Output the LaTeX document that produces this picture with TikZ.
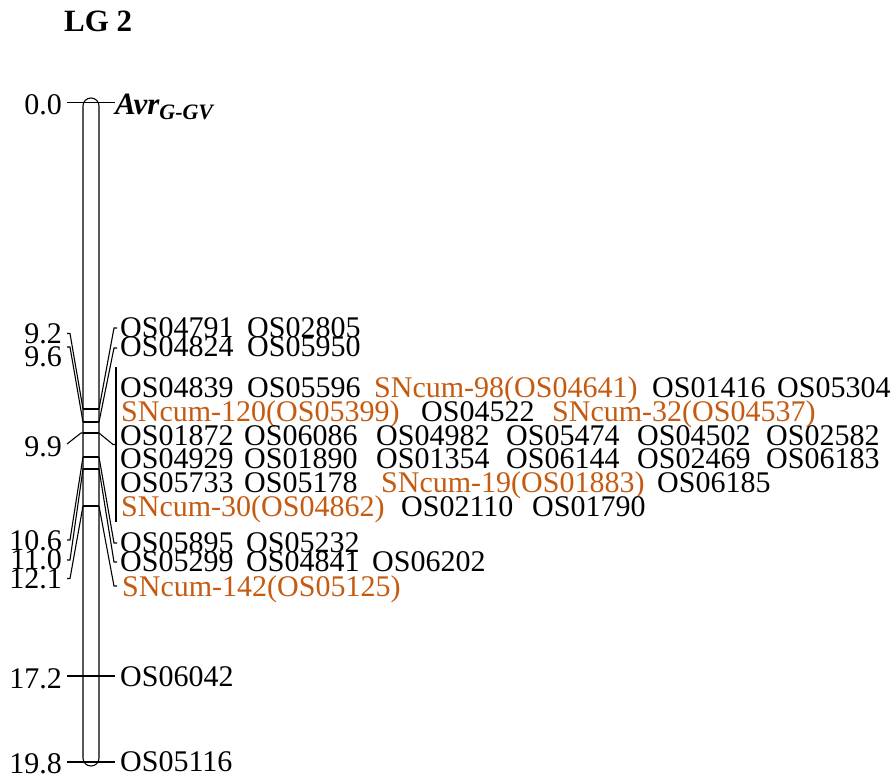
\documentclass[tikz,border=0pt]{standalone}
\usepackage{fontspec}
\setmainfont{Liberation Serif}
\definecolor{snorange}{RGB}{197,90,17}
\tikzset{
  lbl/.style={anchor=base west,inner sep=0pt,font=\fontsize{30}{30}\selectfont},
  num/.style={anchor=base east,inner sep=0pt,font=\fontsize{30}{30}\selectfont},
  sn/.style={lbl,text=snorange},
  conn/.style={line width=1.1pt,black},
  chrom/.style={line width=1.1pt,black}
}
\begin{document}
\begin{tikzpicture}[x=1pt,y=-1pt]
\useasboundingbox (0,0) rectangle (896,776);
% title
\node[anchor=base west,inner sep=0pt,font=\fontsize{31}{31}\selectfont\bfseries] (title) at (64,32) {LG 2};
% chromosome
\draw[chrom,rounded corners=7.9pt] (83,98) rectangle (99,766);
% ticks inside chromosome
\foreach \yy/\nm in {409/a,422/b,433/c,457/d,469/e,506/f}{
  \coordinate (L\nm) at (83,\yy);
  \coordinate (R\nm) at (99,\yy);
  \draw[conn] (L\nm) -- (R\nm);
}
% top and bottom ticks
\coordinate (t0l) at (67,102.7); \coordinate (t0r) at (115,102.7);
\draw[conn] (t0l) -- (t0r);
\coordinate (t17l) at (67,676); \coordinate (t17r) at (115,676);
\draw[conn] (t17l) -- (t17r);
\coordinate (t19l) at (67,762); \coordinate (t19r) at (115,762);
\draw[conn] (t19l) -- (t19r);
% left numbers
\node[num] (n00) at (62,114) {0.0};
\node[num] (n92) at (62,343) {9.2};
\node[num] (n96) at (62,366) {9.6};
\node[num] (n99) at (62,456.5) {9.9};
\node[num] (n106) at (62,550) {10.6};
\node[num] (n110) at (62,569.5) {11.0};
\node[num] (n121) at (62,588) {12.1};
\node[num] (n172) at (62,688) {17.2};
\node[num] (n198) at (62,773) {19.8};
% left connectors
\draw[conn] (67,333.5) -- (70,333.5) -- (La);
\draw[conn] (67,347) -- (70,347) -- (Lb);
\draw[conn] (67,444) -- (81,433) -- (Lc);
\draw[conn] (67,540) -- (70,540) -- (Ld);
\draw[conn] (67,560) -- (70,560) -- (Le);
\draw[conn] (67,578.5) -- (70,578.5) -- (Lf);
% right connectors
\draw[conn] (Ra) -- (114,328) -- (117,328);
\draw[conn] (Rb) -- (114,348) -- (117,348);
\draw[conn] (Rc) -- (113,444.5) -- (116,444.5);
\draw[conn] (116,367) -- (116,522);
\draw[conn] (Rd) -- (114,543) -- (117,543);
\draw[conn] (Re) -- (114,562) -- (117,562);
\draw[conn] (Rf) -- (114,586) -- (117,586);
% Avr label
\node[anchor=base west,inner sep=0pt,font=\fontsize{31}{31}\selectfont\bfseries\itshape] (avr) at (115,114) {Avr\textsubscript{\fontsize{22}{22}\selectfont G-GV}};
% upper markers
\node[lbl] (m1) at (120,337) {OS04791};
\node[lbl] (m2) at (247,337) {OS02805};
\node[lbl] (m3) at (120,356.7) {OS04824};
\node[lbl] (m4) at (247,356.7) {OS05950};
% group rows
\node[lbl] (r1a) at (120,397) {OS04839};
\node[lbl] (r1b) at (247,397) {OS05596};
\node[sn]  (r1c) at (374,397) {SNcum-98(OS04641)};
\node[lbl] (r1d) at (652,397) {OS01416};
\node[lbl] (r1e) at (777,397) {OS05304};
\node[sn]  (r2a) at (121,421) {SNcum-120(OS05399)};
\node[lbl] (r2b) at (421,421) {OS04522};
\node[sn]  (r2c) at (552,421) {SNcum-32(OS04537)};
\node[lbl] (r3a) at (120,445) {OS01872};
\node[lbl] (r3b) at (244,445) {OS06086};
\node[lbl] (r3c) at (376,445) {OS04982};
\node[lbl] (r3d) at (506,445) {OS05474};
\node[lbl] (r3e) at (637,445) {OS04502};
\node[lbl] (r3f) at (766,445) {OS02582};
\node[lbl] (r4a) at (120,468) {OS04929};
\node[lbl] (r4b) at (244,468) {OS01890};
\node[lbl] (r4c) at (376,468) {OS01354};
\node[lbl] (r4d) at (506,468) {OS06144};
\node[lbl] (r4e) at (637,468) {OS02469};
\node[lbl] (r4f) at (766,468) {OS06183};
\node[lbl] (r5a) at (120,492) {OS05733};
\node[lbl] (r5b) at (244,492) {OS05178};
\node[sn]  (r5c) at (381,492) {SNcum-19(OS01883)};
\node[lbl] (r5d) at (657,492) {OS06185};
\node[sn]  (r6a) at (121,516) {SNcum-30(OS04862)};
\node[lbl] (r6b) at (401,516) {OS02110};
\node[lbl] (r6c) at (532,516) {OS01790};
% lower markers
\node[lbl] (l1a) at (120,552) {OS05895};
\node[lbl] (l1b) at (246,552) {OS05232};
\node[lbl] (l2a) at (120,571.5) {OS05299};
\node[lbl] (l2b) at (246,571.5) {OS04841};
\node[lbl] (l2c) at (372,571.5) {OS06202};
\node[sn]  (l3a) at (122,596.5) {SNcum-142(OS05125)};
\node[lbl] (b1) at (120,686.5) {OS06042};
\node[lbl] (b2) at (120,771.5) {OS05116};
\end{tikzpicture}
\end{document}
